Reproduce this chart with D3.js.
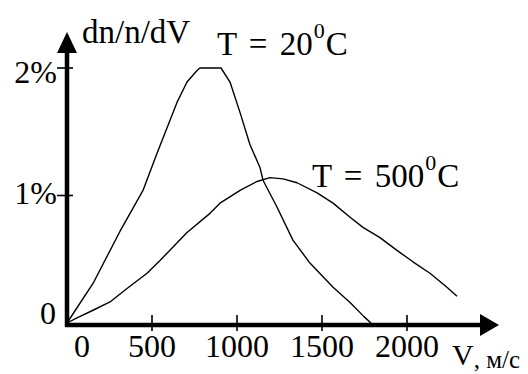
<!DOCTYPE html>
<html>
<head>
<meta charset="utf-8">
<script src="https://cdn.jsdelivr.net/npm/d3@7/dist/d3.min.js"></script>
<style>
  html, body { margin: 0; padding: 0; background: #fff; }
  svg { display: block; }
  text { font-family: "Liberation Serif", "Times New Roman", serif; fill: #000; }
</style>
</head>
<body>
<svg id="chart" width="528" height="374"></svg>
<script>
// Maxwell speed distribution at two temperatures: speed (m/s) vs dn/n/dV (%)
const speedCold = [0, 153, 312, 371, 447, 529, 606, 647, 706, 765, 782, 906, 959, 1018, 1076, 1135, 1153, 1235, 1329, 1429, 1565, 1665, 1747, 1788];
const shareCold = [0, 0.31, 0.72, 0.86, 1.04, 1.33, 1.59, 1.73, 1.89, 1.98, 2.0, 2.0, 1.89, 1.65, 1.40, 1.22, 1.12, 0.91, 0.65, 0.47, 0.28, 0.16, 0.05, 0];

const speedHot = [0, 59, 153, 253, 353, 471, 547, 706, 841, 900, 1018, 1118, 1194, 1271, 1353, 1471, 1565, 1665, 1741, 1841, 1941, 2035, 2135, 2235, 2294];
const shareHot = [0, 0.04, 0.10, 0.165, 0.27, 0.39, 0.49, 0.71, 0.86, 0.94, 1.04, 1.11, 1.14, 1.13, 1.10, 1.02, 0.94, 0.83, 0.75, 0.67, 0.57, 0.48, 0.39, 0.28, 0.21];

const xTicks = [500, 1000, 1500, 2000];
const xTickLabels = ["500", "1000", "1500", "2000"];
const yTicks = [1, 2];
const yTickLabels = ["1%", "2%"];

const svg = d3.select("#chart");

const x = d3.scaleLinear().domain([0, 2000]).range([67, 407]);
const y = d3.scaleLinear().domain([0, 2]).range([323, 68]);

// axes with arrow heads
const axisX0 = x(0), axisY0 = y(0) + 2;
svg.append("line")
  .attr("x1", axisX0).attr("y1", axisY0 + 2).attr("x2", axisX0).attr("y2", 50)
  .attr("stroke", "#000").attr("stroke-width", 4.5);
svg.append("path")
  .attr("d", `M${axisX0},32 L${axisX0 - 10},53 L${axisX0 + 10},53 Z`)
  .attr("fill", "#000");
svg.append("line")
  .attr("x1", axisX0 - 2).attr("y1", axisY0).attr("x2", 484).attr("y2", axisY0)
  .attr("stroke", "#000").attr("stroke-width", 4.5);
svg.append("path")
  .attr("d", `M499,${axisY0} L480,${axisY0 - 11} L480,${axisY0 + 11} Z`)
  .attr("fill", "#000");

// x ticks and labels
const xg = svg.append("g");
xTicks.forEach((t, i) => {
  xg.append("line")
    .attr("x1", x(t)).attr("x2", x(t)).attr("y1", 315).attr("y2", 331)
    .attr("stroke", "#000").attr("stroke-width", 1.6);
  xg.append("text")
    .attr("x", x(t)).attr("y", 357)
    .attr("text-anchor", "middle").attr("font-size", 32)
    .text(xTickLabels[i]);
});
xg.append("text")
  .attr("x", 82).attr("y", 357)
  .attr("text-anchor", "middle").attr("font-size", 32)
  .text("0");

// y ticks and labels
const yg = svg.append("g");
const yLabelShift = { 1: 8, 2: 15 };
yTicks.forEach((t, i) => {
  yg.append("line")
    .attr("x1", 57).attr("x2", 73).attr("y1", y(t)).attr("y2", y(t))
    .attr("stroke", "#000").attr("stroke-width", 1.6);
  yg.append("text")
    .attr("x", 57).attr("y", y(t) + yLabelShift[t])
    .attr("text-anchor", "end").attr("font-size", 32)
    .text(yTickLabels[i]);
});
yg.append("text")
  .attr("x", 56).attr("y", 324)
  .attr("text-anchor", "end").attr("font-size", 32)
  .text("0");

// distribution curves
const line = d3.line().x(d => x(d[0])).y(d => y(d[1])).curve(d3.curveLinear);
const cold = speedCold.map((v, i) => [v, shareCold[i]]);
const hot = speedHot.map((v, i) => [v, shareHot[i]]);
[cold, hot].forEach(data => {
  svg.append("path")
    .datum(data)
    .attr("d", line)
    .attr("fill", "none")
    .attr("stroke", "#000")
    .attr("stroke-width", 1.4)
    .attr("stroke-linejoin", "round");
});

// axis titles
svg.append("text")
  .attr("x", 82).attr("y", 43).attr("font-size", 33)
  .text("dn/n/dV");

const xTitle = svg.append("text")
  .attr("x", 452).attr("y", 365).attr("font-size", 30);
xTitle.append("tspan").text("V");
xTitle.append("tspan").attr("dy", 3).attr("font-size", 25).text(", м/с");

// curve labels with superscript degree
function tempLabel(px, py, value) {
  const t = svg.append("text").attr("x", px).attr("y", py)
    .attr("font-size", 33).attr("word-spacing", 4);
  t.append("tspan").text(`T = ${value}`);
  t.append("tspan").attr("dx", 1).attr("dy", -17).attr("font-size", 22).text("0");
  t.append("tspan").attr("dx", 1).attr("dy", 17).text("C");
}
tempLabel(217, 55, 20);
tempLabel(312, 187, 500);
</script>
</body>
</html>
